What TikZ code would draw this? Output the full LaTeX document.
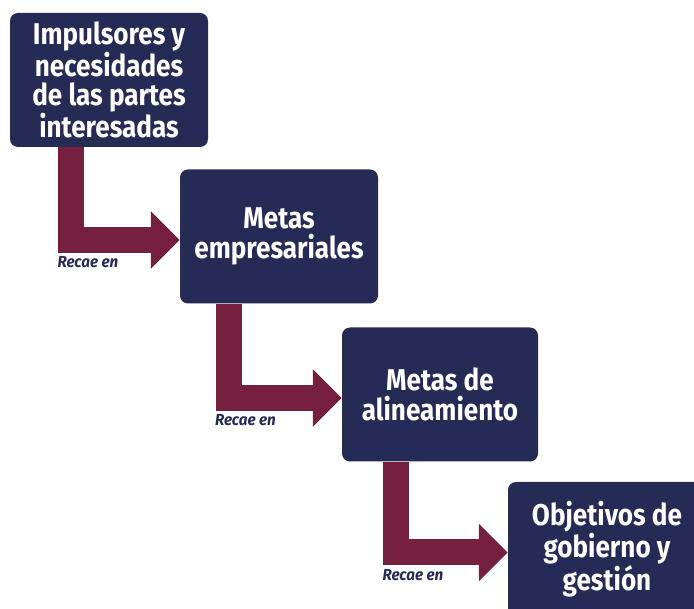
\documentclass[tikz,border=0pt]{standalone}
\usepackage{fontspec}
\usepackage{tikz}
\usetikzlibrary{positioning, calc, arrows.meta}
\newfontfamily\cajafont[FakeStretch=0.87]{Fira Sans}
\newfontfamily\recaefont[FakeStretch=0.95]{Fira Sans}
\definecolor{azulmeta}{HTML}{252B55}
\definecolor{granate}{HTML}{76203F}
\tikzset{
  meta/.style={fill=azulmeta, rounded corners=8pt, minimum width=198pt, minimum height=134pt,
    inner sep=0pt, align=center, text=white, font=\cajafont\bfseries\fontsize{30}{29.5}\selectfont},
  flecha/.style={draw=granate, line width=26pt, -{Triangle[length=29pt,width=56pt]}},
  recae/.style={anchor=north west, inner sep=0pt, text=azulmeta, font=\recaefont\bfseries\itshape\fontsize{16}{16}\selectfont}
}

\begin{document}
\begin{tikzpicture}[x=1pt, y=-1pt]
                \clip (0,0) rectangle (694,609);
                \node[meta] (imp) at (109,80) {Impulsores y\\necesidades\\de las partes\\interesadas};
                \node[meta] (emp) at (279,236.5) {Metas\\empresariales};
                \node[meta, minimum width=196pt] (ali) at (440,394.5) {Metas de\\alineamiento};
                \node[meta] (obj) at (607,549) {Objetivos de\\gobierno y\\gesti\'on};
                % flechas
                \draw[flecha] ($(imp.south west)+(61.5,0)$) coordinate (c1) |- ([yshift=-3.5pt]emp.west);
                \draw[flecha] ($(emp.south west)+(49,0)$) coordinate (c2) |- ([yshift=-3.5pt]ali.west);
                \draw[flecha] ($(ali.south west)+(54.5,0)$) coordinate (c3) |- ([yshift=-3.5pt]obj.west);
                \node[recae] (r1) at ($(c1 |- emp.west)+(-14,20)$) {Recae en};
                \node[recae] (r2) at ($(c2 |- ali.west)+(-14,20)$) {Recae en};
                \node[recae] (r3) at ($(c3 |- obj.west)+(-14,20)$) {Recae en};
            \end{tikzpicture}
\end{document}
